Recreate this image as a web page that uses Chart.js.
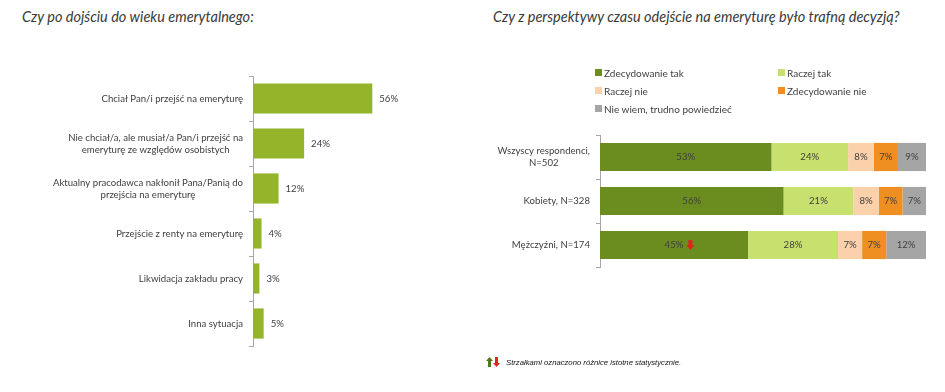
<!DOCTYPE html>
<html lang="pl">
<head>
<meta charset="utf-8">
<script src="https://cdn.jsdelivr.net/npm/chart.js@4.4.1/dist/chart.umd.min.js"></script>
<style>
  body { margin: 0; background: #fff; width: 945px; height: 392px; position: relative; overflow: hidden; font-family: Lato, sans-serif; color: #404040; }
  .tytul { position: absolute; top: 8px; font-style: italic; font-size: 14.5px; color: #3a3a3a; white-space: nowrap; }
  #wykresLewy { position: absolute; left: 0; top: 0; }
  #wykresPrawy { position: absolute; left: 470px; top: 0; }
  #legenda { position: absolute; left: 595px; top: 66px; width: 330px; display: grid; grid-template-columns: 183px 150px; row-gap: 5px; font-size: 10px; }
  #legenda div { display: flex; align-items: center; height: 13px; white-space: nowrap; }
  #legenda span { display: inline-block; width: 7px; height: 7px; margin-right: 2px; }
  #przypis { position: absolute; left: 486px; top: 357px; font-family: "Liberation Sans", Arial, sans-serif; font-style: italic; font-size: 7.7px; color: #111; display: flex; align-items: center; white-space: nowrap; }
  #przypis svg { margin-right: 6px; }
</style>
</head>
<body>
<div class="tytul" style="left:22px">Czy po dojściu do wieku emerytalnego:</div>
<div class="tytul" style="left:493px">Czy z perspektywy czasu odejście na emeryturę było trafną decyzją?</div>
<canvas id="wykresLewy" width="470" height="392"></canvas>
<canvas id="wykresPrawy" width="475" height="392"></canvas>
<div id="legenda"></div>
<div id="przypis">
  <svg width="14" height="10" viewBox="0 0 14 10">
    <polygon points="3.5,0 7,4 5,4 5,10 2,10 2,4 0,4" fill="#4f7a1c"/>
    <polygon points="10.5,10 14,6 12,6 12,0 9,0 9,6 7,6" fill="#e8201c"/>
  </svg>
  Strzałkami oznaczono różnice istotne statystycznie.
</div>
<script>
// lewy wykres
var powody = [
  'Chciał Pan/i przejść na emeryturę',
  ['Nie chciał/a, ale musiał/a Pan/i przejść na', 'emeryturę ze względów osobistych'],
  ['Aktualny pracodawca nakłonił Pana/Panią do', 'przejścia na emeryturę'],
  'Przejście z renty na emeryturę',
  'Likwidacja zakładu pracy',
  'Inna sytuacja'
];
var procentPowodow = [56, 24, 12, 4, 3, 5];

// prawy wykres
var grupy = [['Wszyscy respondenci,', 'N=502'], 'Kobiety, N=328', 'Mężczyźni, N=174'];
var odpowiedzi = ['Zdecydowanie tak', 'Raczej tak', 'Raczej nie', 'Zdecydowanie nie', 'Nie wiem, trudno powiedzieć'];
var zdecydowanieTak = [52.6, 56.3, 45.4];
var raczejTak = [23.5, 21.4, 27.6];
var raczejNie = [7.9, 7.8, 7.4];
var zdecydowanieNie = [7.4, 7.3, 7.4];
var nieWiem = [8.6, 7.2, 12.2];
var strzalki = [null, null, 'down']; // przy "Zdecydowanie tak"
var kolory = ['#6b8c1f', '#c8e06e', '#fad1aa', '#ef8f22', '#a5a5a5'];

var kolorTekstu = '#404040';
var czcionka = '9.6px Lato, sans-serif';

var etykietyOsi = {
  id: 'etykietyOsi',
  afterDraw(chart, args, opts) {
    var ctx = chart.ctx;
    var y = chart.scales.y;
    ctx.save();
    ctx.font = czcionka;
    ctx.fillStyle = kolorTekstu;
    ctx.textAlign = 'center';
    ctx.textBaseline = 'middle';
    chart.data.labels.forEach(function (lab, i) {
      var linie = Array.isArray(lab) ? lab : [lab];
      var szer = Math.max.apply(null, linie.map(l => ctx.measureText(l).width));
      var cx = opts.prawo - szer / 2;
      var cy = y.getPixelForValue(i);
      linie.forEach(function (l, j) {
        ctx.fillText(l, cx, cy + (j - (linie.length - 1) / 2) * 12);
      });
    });
    ctx.restore();
  }
};

var wartosciNaKoncu = {
  id: 'wartosciNaKoncu',
  afterDatasetsDraw(chart) {
    var ctx = chart.ctx;
    ctx.save();
    ctx.font = czcionka;
    ctx.fillStyle = kolorTekstu;
    ctx.textAlign = 'left';
    ctx.textBaseline = 'middle';
    chart.getDatasetMeta(0).data.forEach(function (bar, i) {
      ctx.fillText(chart.data.datasets[0].data[i] + '%', bar.x + 7, bar.y);
    });
    ctx.restore();
  }
};

var wartosciWSrodku = {
  id: 'wartosciWSrodku',
  afterDatasetsDraw(chart) {
    var ctx = chart.ctx;
    ctx.save();
    ctx.font = czcionka;
    ctx.fillStyle = kolorTekstu;
    ctx.textAlign = 'center';
    ctx.textBaseline = 'middle';
    chart.data.datasets.forEach(function (ds, d) {
      chart.getDatasetMeta(d).data.forEach(function (bar, i) {
        var tekst = Math.round(ds.data[i]) + '%';
        var cx = (bar.x + bar.base) / 2;
        ctx.fillText(tekst, cx, bar.y);
        if (d === 0 && strzalki[i] === 'down') {
          var ax = cx + ctx.measureText(tekst).width / 2 + 7;
          ctx.fillStyle = '#e8201c';
          ctx.beginPath();
          ctx.moveTo(ax - 2, bar.y - 5);
          ctx.lineTo(ax + 2, bar.y - 5);
          ctx.lineTo(ax + 2, bar.y);
          ctx.lineTo(ax + 4, bar.y);
          ctx.lineTo(ax, bar.y + 5);
          ctx.lineTo(ax - 4, bar.y);
          ctx.lineTo(ax - 2, bar.y);
          ctx.closePath();
          ctx.fill();
          ctx.fillStyle = kolorTekstu;
        }
      });
    });
    ctx.restore();
  }
};

function osY(szer) {
  return {
    grid: { offset: true, drawOnChartArea: false, tickLength: 4, color: '#a6a6a6' },
    border: { color: '#a6a6a6' },
    ticks: { display: false },
    afterFit: function (scale) { scale.width = szer; }
  };
}

new Chart(document.getElementById('wykresLewy'), {
  type: 'bar',
  data: {
    labels: powody,
    datasets: [{ data: procentPowodow, backgroundColor: '#94b52a', categoryPercentage: 1, barPercentage: 0.67 }]
  },
  options: {
    indexAxis: 'y',
    responsive: false,
    animation: false,
    layout: { padding: { top: 76, bottom: 46, left: 0, right: 4 } },
    scales: {
      x: { display: false, min: 0, max: 100 },
      y: osY(253)
    },
    plugins: {
      legend: { display: false },
      tooltip: { enabled: false },
      etykietyOsi: { prawo: 243 }
    }
  },
  plugins: [etykietyOsi, wartosciNaKoncu]
});

var serie = [zdecydowanieTak, raczejTak, raczejNie, zdecydowanieNie, nieWiem];
var wykresPrawy = new Chart(document.getElementById('wykresPrawy'), {
  type: 'bar',
  data: {
    labels: grupy,
    datasets: serie.map(function (s, i) {
      return { label: odpowiedzi[i], data: s, backgroundColor: kolory[i], categoryPercentage: 1, barPercentage: 0.64 };
    })
  },
  options: {
    indexAxis: 'y',
    responsive: false,
    animation: false,
    layout: { padding: { top: 135, bottom: 125, left: 0, right: 19 } },
    scales: {
      x: { display: false, stacked: true, min: 0, max: 100 },
      y: Object.assign(osY(130), { stacked: true })
    },
    plugins: {
      legend: { display: false },
      tooltip: { enabled: false },
      etykietyOsi: { prawo: 120 }
    }
  },
  plugins: [etykietyOsi, wartosciWSrodku]
});

var legenda = document.getElementById('legenda');
wykresPrawy.data.datasets.forEach(function (ds) {
  var el = document.createElement('div');
  el.innerHTML = '<span style="background:' + ds.backgroundColor + '"></span>' + ds.label;
  legenda.appendChild(el);
});
</script>
</body>
</html>
